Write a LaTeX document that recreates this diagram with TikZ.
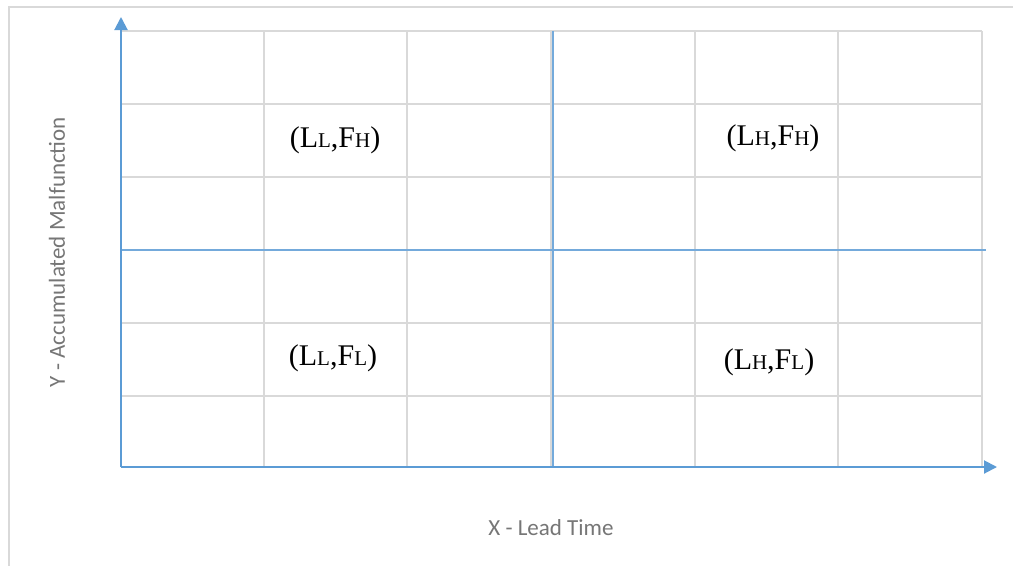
\documentclass[tikz,border=0pt]{standalone}
\usepackage{fontspec}
\setmainfont{Liberation Serif}
\newfontfamily\axisfont{Carlito}
\usetikzlibrary{arrows.meta}
\definecolor{gridgray}{HTML}{D9D9D9}
\definecolor{axisblue}{HTML}{5B9BD5}
\definecolor{labelgray}{HTML}{767676}
\newcommand{\sm}[1]{{\fontsize{21}{21}\selectfont #1}}
\tikzset{
  gridline/.style={draw=gridgray, line width=2pt},
  frameline/.style={draw=gridgray, line width=2pt},
  axisline/.style={draw=axisblue, line width=2pt, -{Triangle[width=13pt,length=13pt]}},
  midline/.style={draw=axisblue!85, line width=1.6pt},
  quad/.style={font=\fontsize{30}{30}\selectfont, text=black, inner sep=0pt},
  axislabel/.style={font=\axisfont\fontsize{23}{23}\selectfont, text=labelgray, inner sep=0pt}
}
\begin{document}
\begin{tikzpicture}[x=1pt,y=-1pt]
\useasboundingbox (0,0) rectangle (1013,566);
\fill[white] (0,0) rectangle (1013,566);
% outer frame
\draw[frameline] (1013,7) -- (9,7) -- (9,566);
% grid
\foreach \x in {264,407,551,695,838,982} \draw[gridline] (\x,31) -- (\x,467);
\foreach \y in {31,104,177,250,323,396} \draw[gridline] (121,\y) -- (982,\y);
% coordinates
\coordinate (O) at (121,467);
\coordinate (Ytip) at (121,17);
\coordinate (Xtip) at (997,467);
\coordinate (Vtop) at (553,31);
\coordinate (Vbot) at (553,467);
\coordinate (Hl) at (121,250);
\coordinate (Hr) at (986,250);
% middle dividers
\draw[midline] (Vtop) -- (Vbot);
\draw[midline] (Hl) -- (Hr);
% axes
\draw[axisline] (O) -- (Ytip);
\draw[axisline] (O) -- (Xtip);
% quadrant labels
\node[quad] (llfh) at (335,140) {(L\sm{L},F\sm{H})};
\node[quad] (lhfh) at (773,138) {(L\sm{H},F\sm{H})};
\node[quad] (llfl) at (333,358) {(L\sm{L},F\sm{L})};
\node[quad] (lhfl) at (769,362) {(L\sm{H},F\sm{L})};
% axis labels
\node[axislabel] (xlab) at (551,528) {X - Lead Time};
\node[axislabel, rotate=90] (ylab) at (57,252) {Y - Accumulated Malfunction};
\end{tikzpicture}
\end{document}
